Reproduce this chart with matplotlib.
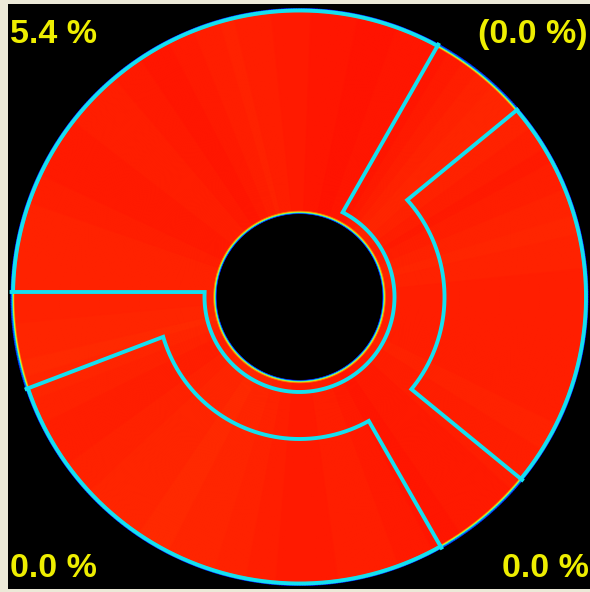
import numpy as np
from matplotlib import pyplot as plt


# disk geometry (pixel-like units, centre of the disk at 0,0)
R_OUT = 288
R_HOLE = 84

# brightness of the red field by angle (deg, every 15 deg)
field_angles = [0, 15, 30, 45, 60, 75, 90, 105, 120, 135, 150, 165,
                180, 195, 210, 225, 240, 255, 270, 285, 300, 315, 330, 345, 360]
field_values = [0.878, 0.870, 0.880, 0.868, 0.884, 0.888, 0.882, 0.874, 0.885, 0.876, 0.882, 0.872,
                0.874, 0.866, 0.878, 0.870, 0.866, 0.872, 0.882, 0.876, 0.884, 0.880, 0.874, 0.878, 0.878]

# cyan region boundaries as (angle deg, radius) corner points
boundary_1 = [(179, 288), (177, 95), (423, 95), (421.2, 288)]
boundary_2 = [(40.7, 287), (42, 145), (-39.5, 145), (-39.4, 288)]
boundary_3 = [(-60.5, 288), (-60.8, 142), (-163.7, 142), (-161.4, 288)]
# parts of the outer rim outlined in cyan (deg)
rim_arcs = [(61.2, 179), (-39.4, 40.7), (198.6, 299.5)]

# corner labels
labels = ['5.4 %', '(0.0 %)', '0.0 %', '0.0 %']


def polar_path(points):
    xs, ys = [], []
    for (a0, r0), (a1, r1) in zip(points[:-1], points[1:]):
        if abs(r0 - r1) < 1e-6:
            # arc at constant radius
            a = np.linspace(a0, a1, 200)
            r = np.full_like(a, r0)
        else:
            a = np.array([a0, a1])
            r = np.array([r0, r1])
        xs.extend(r * np.cos(np.radians(a)))
        ys.extend(r * np.sin(np.radians(a)))
    return xs, ys


def main():
    fig = plt.figure(figsize=(5.9, 5.92), dpi=100, facecolor='#ECE9D8')
    ax = fig.add_axes([8 / 590, 3 / 592, 582 / 590, 585 / 592])
    ax.set_facecolor('black')
    ax.set_xticks([])
    ax.set_yticks([])
    for s in ax.spines.values():
        s.set_visible(False)

    # red field with a thin rainbow rim at both edges (jet colormap)
    theta = np.linspace(0, 360, 721)
    base = np.interp(theta, field_angles, field_values)
    cmap = plt.get_cmap('jet')
    ramp = [0.08, 0.35, 0.6, 0.75]
    inner_r = [R_HOLE - 0.5, R_HOLE + 0.5, R_HOLE + 1.3, R_HOLE + 2.0]
    mid_r = [R_HOLE + 3, 120, 160, 200, 240, R_OUT - 3]
    outer_r = [R_OUT - 2.0, R_OUT - 1.3, R_OUT - 0.5, R_OUT + 0.5]
    rows = ([np.full_like(theta, v) for v in ramp] + [base] * len(mid_r)
            + [np.full_like(theta, v) for v in ramp[::-1]])
    radii = np.array(inner_r + mid_r + outer_r)
    C = np.array(rows)
    T, R = np.meshgrid(np.radians(theta), radii)
    X = R * np.cos(T)
    Y = R * np.sin(T)
    ax.pcolormesh(X, Y, cmap(C), shading='gouraud')

    cyan = '#14E0F0'
    for b in [boundary_1, boundary_2, boundary_3]:
        x, y = polar_path(b)
        ax.plot(x, y, color=cyan, lw=2.8, solid_joinstyle='miter')
    for a0, a1 in rim_arcs:
        a = np.radians(np.linspace(a0, a1, 300))
        ax.plot((R_OUT - 1.5) * np.cos(a), (R_OUT - 1.5) * np.sin(a), color=cyan, lw=2.8)

    ax.set_xlim(-291.5, 290.5)
    ax.set_ylim(-292, 293)

    font = dict(family='Liberation Sans', weight='bold', size=24.5, color='#EEEE00')
    fig.text(10 / 590, 1 - 43 / 592, labels[0], ha='left', va='baseline', **font)
    fig.text(588 / 590, 1 - 43 / 592, labels[1], ha='right', va='baseline', **font)
    fig.text(10 / 590, 1 - 577 / 592, labels[2], ha='left', va='baseline', **font)
    fig.text(589 / 590, 1 - 577 / 592, labels[3], ha='right', va='baseline', **font)

    fig.savefig('out.png', dpi=100, facecolor=fig.get_facecolor())


if __name__ == '__main__':
    main()
